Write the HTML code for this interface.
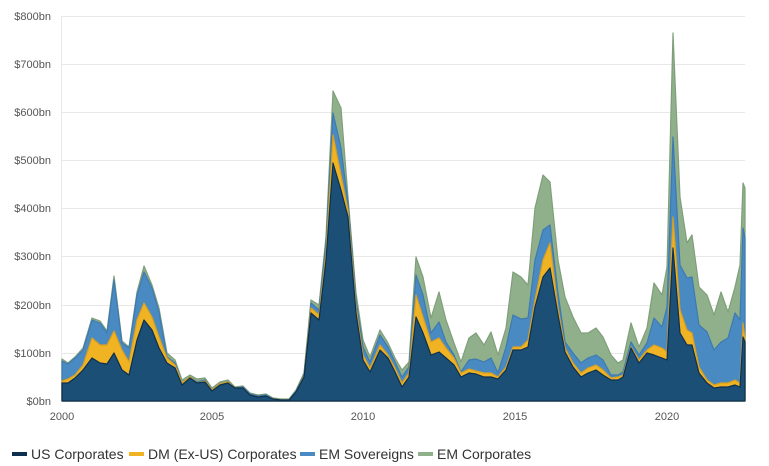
<!DOCTYPE html>
<html><head><meta charset="utf-8"><style>
body{margin:0;background:#fff;}
svg{display:block;font-family:"Liberation Sans",sans-serif;}
</style></head><body>
<svg id="s" width="769" height="466" viewBox="0 0 769 466">
<g stroke="#e8e8e8" stroke-width="1">
<line x1="62" x2="745" y1="16.5" y2="16.5"/><line x1="62" x2="745" y1="64.5" y2="64.5"/>
<line x1="62" x2="745" y1="112.5" y2="112.5"/><line x1="62" x2="745" y1="160.5" y2="160.5"/>
<line x1="62" x2="745" y1="208.5" y2="208.5"/><line x1="62" x2="745" y1="256.5" y2="256.5"/>
<line x1="62" x2="745" y1="305.5" y2="305.5"/><line x1="62" x2="745" y1="353.5" y2="353.5"/>
<line x1="61.5" x2="61.5" y1="16" y2="401"/>
</g>
<g fill="#555" font-size="11" text-anchor="end">
<text x="51" y="20">$800bn</text><text x="51" y="68">$700bn</text><text x="51" y="116">$600bn</text>
<text x="51" y="164">$500bn</text><text x="51" y="212">$400bn</text><text x="51" y="260">$300bn</text>
<text x="51" y="309">$200bn</text><text x="51" y="357">$100bn</text><text x="51" y="405">$0bn</text>
</g>
<g id="areas"></g>
<g fill="#555" font-size="11" text-anchor="middle">
<text x="62" y="420">2000</text><text x="212" y="420">2005</text><text x="363" y="420">2010</text>
<text x="515" y="420">2015</text><text x="667" y="420">2020</text>
</g>
<g font-size="14" fill="#333">
<rect x="12" y="452" width="15" height="4" fill="#0d3050"/><text x="31" y="459">US Corporates</text>
<rect x="129" y="452" width="15" height="4" fill="#f0b323"/><text x="148" y="459">DM (Ex-US) Corporates</text>
<rect x="300" y="452" width="15" height="4" fill="#4a8ac2"/><text x="319" y="459">EM Sovereigns</text>
<rect x="418" y="452" width="15" height="4" fill="#8fb08a"/><text x="437" y="459">EM Corporates</text>
</g>
</svg>
<script>
var d=[[62,383,381,361,359],[68,383,379,364,363],[75,378,375,358,357],[83,370,365,350,348],[92,358,338,320,318],[100,363,345,323,321],[107,364,345,333,331],[114,353,331,280,276],[122,370,350,343,341],[129,375,362,348,347],[137,340,320,295,292],[144,320,303,272,266],[152,330,317,288,285],[159,348,337,312,308],[167,363,358,357,353],[175,368,365,363,360],[182,385,383,383,380],[190,378,377,377,375],[197,383,383,382,379],[205,382,381,380,378],[212,391,390,390,388],[220,385,384,384,382],[228,383,382,382,380],[235,388,388,388,387],[243,388,388,387,386],[250,395,395,394,393],[258,397,397,396,395],[266,396,396,395,394],[273,399,399,399,398],[281,400,400,400,399],[289,400,400,400,399],[296,392,392,391,390],[304,377,376,375,373],[311,313,308,303,300],[319,320,315,310,305],[326,260,253,242,237],[333,163,135,113,91],[341,190,175,148,108],[348,217,210,203,197],[356,313,307,300,293],[363,360,355,347,340],[370,372,368,362,357],[380,350,345,335,330],[388,358,355,347,343],[395,372,368,362,358],[402,387,383,377,370],[409,377,373,367,362],[416,317,295,275,257],[423,333,317,295,277],[431,355,342,333,318],[439,352,338,322,292],[446,358,348,342,320],[454,365,358,355,343],[461,377,373,372,362],[469,373,369,360,338],[476,374,371,359,333],[484,377,373,362,345],[491,377,373,358,332],[498,379,377,373,355],[506,370,367,347,328],[513,350,347,315,272],[521,350,347,319,277],[528,347,340,318,285],[535,307,300,260,208],[543,277,260,230,175],[550,268,243,225,182],[558,315,308,293,260],[565,352,348,342,297],[573,367,363,353,317],[581,377,373,363,333],[588,373,368,358,333],[596,370,365,355,328],[603,375,370,360,337],[611,380,378,375,355],[618,380,377,375,363],[623,377,375,372,360],[631,348,347,342,323],[639,363,360,355,347],[647,353,350,343,328],[654,355,345,318,283],[662,358,348,327,295],[667,360,352,307,267],[673,248,217,137,33],[680,333,310,265,197],[687,345,330,278,243],[692,345,333,277,235],[699,373,367,325,287],[707,383,380,332,295],[714,388,385,350,315],[721,387,383,342,292],[728,387,383,338,312],[735,385,380,313,287],[740,387,383,320,265],[743,337,323,228,183],[745,342,338,238,188]];
var fills=["#1b4f76","#f0b323","#4a8ac2","#8fb08a"],strokes=["#0d3050","#d9a020","#3d7ab0","#7f9f7a"];
var g=document.getElementById("areas"),h="";
for(var k=3;k>=0;k--){var p="M62,401";d.forEach(function(r){p+=" L"+r[0]+","+r[k+1];});p+=" L745,401 Z";
h+='<path d="'+p+'" fill="'+fills[k]+'" stroke="'+strokes[k]+'" stroke-width="1.2" stroke-linejoin="round"/>';}
g.innerHTML=h;
</script>
</body></html>
